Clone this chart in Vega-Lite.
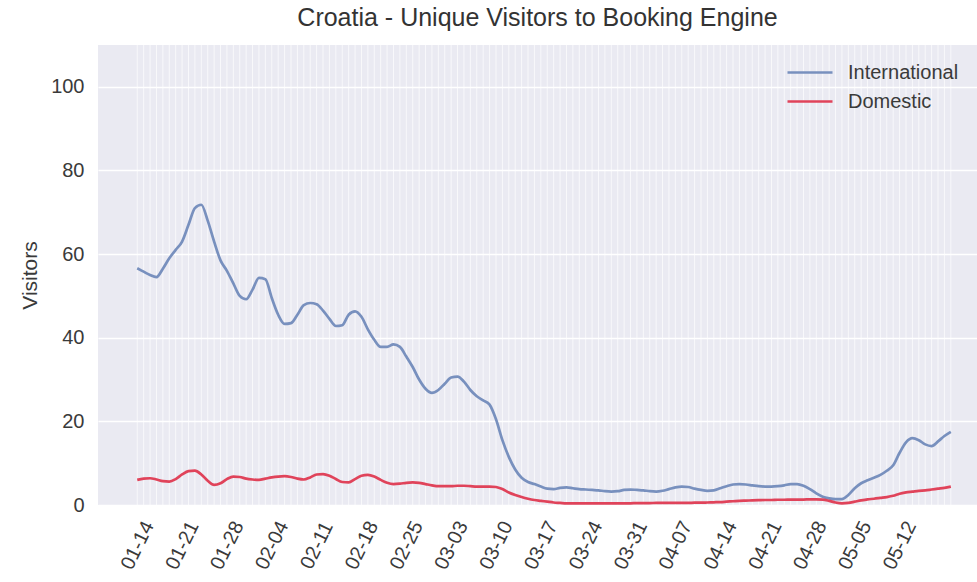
{
  "$schema": "https://vega.github.io/schema/vega-lite/v6.json",
  "width": 879,
  "height": 460,
  "autosize": {"type": "none"},
  "padding": {"left": 98, "top": 45, "right": 0, "bottom": 77},
  "background": "white",
  "title": {"text": "Croatia - Unique Visitors to Booking Engine", "anchor": "middle", "fontSize": 25, "font": "Liberation Sans", "fontWeight": "normal", "color": "#333333", "offset": 14},
  "config": {
    "view": {"fill": "#EAEAF2", "stroke": null},
    "axis": {"labelFont": "Liberation Sans", "titleFont": "Liberation Sans", "labelColor": "#3a3a3a", "titleColor": "#3a3a3a", "ticks": false, "domain": false, "labelFontSize": 20, "titleFontSize": 21, "titleFontWeight": "normal"},
    "legend": {"labelFont": "Liberation Sans", "labelFontSize": 20, "labelColor": "#3a3a3a"}
  },
  "data": {"values": [
    {"date": "2020-01-14", "International": 56.6, "Domestic": 6.0},
    {"date": "2020-01-15", "International": 55.8, "Domestic": 6.3},
    {"date": "2020-01-16", "International": 55.0, "Domestic": 6.4},
    {"date": "2020-01-17", "International": 54.5, "Domestic": 6.1},
    {"date": "2020-01-18", "International": 56.5, "Domestic": 5.7},
    {"date": "2020-01-19", "International": 59.0, "Domestic": 5.6},
    {"date": "2020-01-20", "International": 61.0, "Domestic": 6.2},
    {"date": "2020-01-21", "International": 63.0, "Domestic": 7.3},
    {"date": "2020-01-22", "International": 67.0, "Domestic": 8.1},
    {"date": "2020-01-23", "International": 71.0, "Domestic": 8.2},
    {"date": "2020-01-24", "International": 71.8, "Domestic": 7.3},
    {"date": "2020-01-25", "International": 68.0, "Domestic": 5.8},
    {"date": "2020-01-26", "International": 63.0, "Domestic": 4.8},
    {"date": "2020-01-27", "International": 58.5, "Domestic": 5.2},
    {"date": "2020-01-28", "International": 56.0, "Domestic": 6.2},
    {"date": "2020-01-29", "International": 53.0, "Domestic": 6.8},
    {"date": "2020-01-30", "International": 50.0, "Domestic": 6.7},
    {"date": "2020-01-31", "International": 49.2, "Domestic": 6.3},
    {"date": "2020-02-01", "International": 51.5, "Domestic": 6.1},
    {"date": "2020-02-02", "International": 54.3, "Domestic": 6.0},
    {"date": "2020-02-03", "International": 54.0, "Domestic": 6.3},
    {"date": "2020-02-04", "International": 49.5, "Domestic": 6.6},
    {"date": "2020-02-05", "International": 45.5, "Domestic": 6.8},
    {"date": "2020-02-06", "International": 43.3, "Domestic": 6.9},
    {"date": "2020-02-07", "International": 43.5, "Domestic": 6.7},
    {"date": "2020-02-08", "International": 45.5, "Domestic": 6.3},
    {"date": "2020-02-09", "International": 47.8, "Domestic": 6.1},
    {"date": "2020-02-10", "International": 48.3, "Domestic": 6.6},
    {"date": "2020-02-11", "International": 48.0, "Domestic": 7.3},
    {"date": "2020-02-12", "International": 46.5, "Domestic": 7.4},
    {"date": "2020-02-13", "International": 44.5, "Domestic": 7.0},
    {"date": "2020-02-14", "International": 42.8, "Domestic": 6.2},
    {"date": "2020-02-15", "International": 43.0, "Domestic": 5.5},
    {"date": "2020-02-16", "International": 45.5, "Domestic": 5.4},
    {"date": "2020-02-17", "International": 46.3, "Domestic": 6.2},
    {"date": "2020-02-18", "International": 45.0, "Domestic": 7.0},
    {"date": "2020-02-19", "International": 42.0, "Domestic": 7.2},
    {"date": "2020-02-20", "International": 39.5, "Domestic": 6.8},
    {"date": "2020-02-21", "International": 37.8, "Domestic": 6.0},
    {"date": "2020-02-22", "International": 37.8, "Domestic": 5.3},
    {"date": "2020-02-23", "International": 38.4, "Domestic": 5.0},
    {"date": "2020-02-24", "International": 37.8, "Domestic": 5.1},
    {"date": "2020-02-25", "International": 35.5, "Domestic": 5.3},
    {"date": "2020-02-26", "International": 33.0, "Domestic": 5.4},
    {"date": "2020-02-27", "International": 30.0, "Domestic": 5.3},
    {"date": "2020-02-28", "International": 27.8, "Domestic": 5.0},
    {"date": "2020-02-29", "International": 26.8, "Domestic": 4.7},
    {"date": "2020-03-01", "International": 27.5, "Domestic": 4.5},
    {"date": "2020-03-02", "International": 29.0, "Domestic": 4.5},
    {"date": "2020-03-03", "International": 30.5, "Domestic": 4.5},
    {"date": "2020-03-04", "International": 30.7, "Domestic": 4.6},
    {"date": "2020-03-05", "International": 29.5, "Domestic": 4.6},
    {"date": "2020-03-06", "International": 27.5, "Domestic": 4.5},
    {"date": "2020-03-07", "International": 26.0, "Domestic": 4.4},
    {"date": "2020-03-08", "International": 25.0, "Domestic": 4.4},
    {"date": "2020-03-09", "International": 24.0, "Domestic": 4.4},
    {"date": "2020-03-10", "International": 20.5, "Domestic": 4.3},
    {"date": "2020-03-11", "International": 15.5, "Domestic": 3.8},
    {"date": "2020-03-12", "International": 11.5, "Domestic": 3.0},
    {"date": "2020-03-13", "International": 8.5, "Domestic": 2.4},
    {"date": "2020-03-14", "International": 6.5, "Domestic": 1.9},
    {"date": "2020-03-15", "International": 5.5, "Domestic": 1.5},
    {"date": "2020-03-16", "International": 5.0, "Domestic": 1.2},
    {"date": "2020-03-17", "International": 4.4, "Domestic": 1.0},
    {"date": "2020-03-18", "International": 3.9, "Domestic": 0.8},
    {"date": "2020-03-19", "International": 3.8, "Domestic": 0.6},
    {"date": "2020-03-20", "International": 4.1, "Domestic": 0.5},
    {"date": "2020-03-21", "International": 4.2, "Domestic": 0.4},
    {"date": "2020-03-22", "International": 4.0, "Domestic": 0.4},
    {"date": "2020-03-23", "International": 3.8, "Domestic": 0.4},
    {"date": "2020-03-24", "International": 3.7, "Domestic": 0.4},
    {"date": "2020-03-25", "International": 3.6, "Domestic": 0.4},
    {"date": "2020-03-26", "International": 3.5, "Domestic": 0.4},
    {"date": "2020-03-27", "International": 3.3, "Domestic": 0.4},
    {"date": "2020-03-28", "International": 3.2, "Domestic": 0.4},
    {"date": "2020-03-29", "International": 3.3, "Domestic": 0.4},
    {"date": "2020-03-30", "International": 3.6, "Domestic": 0.4},
    {"date": "2020-03-31", "International": 3.7, "Domestic": 0.4},
    {"date": "2020-04-01", "International": 3.6, "Domestic": 0.45},
    {"date": "2020-04-02", "International": 3.5, "Domestic": 0.45},
    {"date": "2020-04-03", "International": 3.3, "Domestic": 0.45},
    {"date": "2020-04-04", "International": 3.2, "Domestic": 0.5},
    {"date": "2020-04-05", "International": 3.4, "Domestic": 0.5},
    {"date": "2020-04-06", "International": 3.8, "Domestic": 0.5},
    {"date": "2020-04-07", "International": 4.2, "Domestic": 0.5},
    {"date": "2020-04-08", "International": 4.4, "Domestic": 0.5},
    {"date": "2020-04-09", "International": 4.3, "Domestic": 0.5},
    {"date": "2020-04-10", "International": 3.9, "Domestic": 0.55},
    {"date": "2020-04-11", "International": 3.6, "Domestic": 0.55},
    {"date": "2020-04-12", "International": 3.4, "Domestic": 0.6},
    {"date": "2020-04-13", "International": 3.5, "Domestic": 0.65},
    {"date": "2020-04-14", "International": 4.0, "Domestic": 0.7},
    {"date": "2020-04-15", "International": 4.5, "Domestic": 0.8},
    {"date": "2020-04-16", "International": 4.9, "Domestic": 0.9},
    {"date": "2020-04-17", "International": 5.0, "Domestic": 1.0},
    {"date": "2020-04-18", "International": 4.9, "Domestic": 1.05},
    {"date": "2020-04-19", "International": 4.7, "Domestic": 1.1},
    {"date": "2020-04-20", "International": 4.5, "Domestic": 1.15},
    {"date": "2020-04-21", "International": 4.4, "Domestic": 1.2},
    {"date": "2020-04-22", "International": 4.4, "Domestic": 1.2},
    {"date": "2020-04-23", "International": 4.5, "Domestic": 1.25},
    {"date": "2020-04-24", "International": 4.7, "Domestic": 1.25},
    {"date": "2020-04-25", "International": 5.0, "Domestic": 1.3},
    {"date": "2020-04-26", "International": 5.0, "Domestic": 1.3},
    {"date": "2020-04-27", "International": 4.6, "Domestic": 1.3},
    {"date": "2020-04-28", "International": 3.8, "Domestic": 1.35},
    {"date": "2020-04-29", "International": 2.8, "Domestic": 1.35},
    {"date": "2020-04-30", "International": 2.0, "Domestic": 1.3},
    {"date": "2020-05-01", "International": 1.6, "Domestic": 1.0},
    {"date": "2020-05-02", "International": 1.4, "Domestic": 0.6},
    {"date": "2020-05-03", "International": 1.4, "Domestic": 0.4},
    {"date": "2020-05-04", "International": 2.4, "Domestic": 0.5},
    {"date": "2020-05-05", "International": 4.0, "Domestic": 0.8},
    {"date": "2020-05-06", "International": 5.2, "Domestic": 1.1},
    {"date": "2020-05-07", "International": 5.9, "Domestic": 1.35},
    {"date": "2020-05-08", "International": 6.5, "Domestic": 1.5},
    {"date": "2020-05-09", "International": 7.2, "Domestic": 1.7},
    {"date": "2020-05-10", "International": 8.2, "Domestic": 1.9},
    {"date": "2020-05-11", "International": 9.5, "Domestic": 2.2},
    {"date": "2020-05-12", "International": 12.5, "Domestic": 2.7},
    {"date": "2020-05-13", "International": 15.0, "Domestic": 3.0},
    {"date": "2020-05-14", "International": 16.0, "Domestic": 3.2},
    {"date": "2020-05-15", "International": 15.5, "Domestic": 3.4},
    {"date": "2020-05-16", "International": 14.5, "Domestic": 3.5},
    {"date": "2020-05-17", "International": 14.1, "Domestic": 3.7},
    {"date": "2020-05-18", "International": 15.2, "Domestic": 3.9},
    {"date": "2020-05-19", "International": 16.5, "Domestic": 4.1},
    {"date": "2020-05-20", "International": 17.5, "Domestic": 4.4}
  ]},
  "encoding": {
    "x": {
      "field": "date", "type": "temporal",
      "scale": {"type": "utc", "domain": [{"year": 2020, "month": 1, "date": 7, "hours": 21, "utc": true}, {"year": 2020, "month": 5, "date": 24, "hours": 2, "utc": true}]},
      "axis": {
        "title": null, "grid": false, "format": "%m-%d", "labelOverlap": false,
        "labelAngle": -64, "labelAlign": "center", "labelBaseline": "middle", "labelPadding": 40,
        "values": [
          {"year": 2020, "month": 1, "date": 14, "utc": true},
          {"year": 2020, "month": 1, "date": 21, "utc": true},
          {"year": 2020, "month": 1, "date": 28, "utc": true},
          {"year": 2020, "month": 2, "date": 4, "utc": true},
          {"year": 2020, "month": 2, "date": 11, "utc": true},
          {"year": 2020, "month": 2, "date": 18, "utc": true},
          {"year": 2020, "month": 2, "date": 25, "utc": true},
          {"year": 2020, "month": 3, "date": 3, "utc": true},
          {"year": 2020, "month": 3, "date": 10, "utc": true},
          {"year": 2020, "month": 3, "date": 17, "utc": true},
          {"year": 2020, "month": 3, "date": 24, "utc": true},
          {"year": 2020, "month": 3, "date": 31, "utc": true},
          {"year": 2020, "month": 4, "date": 7, "utc": true},
          {"year": 2020, "month": 4, "date": 14, "utc": true},
          {"year": 2020, "month": 4, "date": 21, "utc": true},
          {"year": 2020, "month": 4, "date": 28, "utc": true},
          {"year": 2020, "month": 5, "date": 5, "utc": true},
          {"year": 2020, "month": 5, "date": 12, "utc": true}
        ]
      }
    }
  },
  "layer": [
    {
      "mark": {"type": "rule", "color": "white", "strokeWidth": 0.8, "opacity": 0.85},
      "encoding": {}
    },
    {
      "transform": [{"fold": ["International", "Domestic"], "as": ["series", "visitors"]}],
      "mark": {"type": "line", "strokeWidth": 2.7, "interpolate": "monotone"},
      "encoding": {
        "y": {
          "field": "visitors", "type": "quantitative",
          "scale": {"domain": [0, 110], "nice": false},
          "axis": {"title": "Visitors", "values": [0, 20, 40, 60, 80, 100], "gridColor": "white", "gridWidth": 1.5, "labelPadding": 14, "titleAngle": -90, "titleX": -68, "titleY": 230, "titleAlign": "center", "titleBaseline": "middle"}
        },
        "color": {
          "field": "series", "type": "nominal",
          "scale": {"domain": ["International", "Domestic"], "range": ["#7890BE", "#E0435A"]},
          "legend": {"title": null, "orient": "none", "legendX": 688, "legendY": 14, "symbolType": "stroke", "symbolSize": 2025, "symbolStrokeWidth": 2.7, "labelOffset": 14, "clipHeight": 27, "rowPadding": 2}
        }
      }
    }
  ]
}
